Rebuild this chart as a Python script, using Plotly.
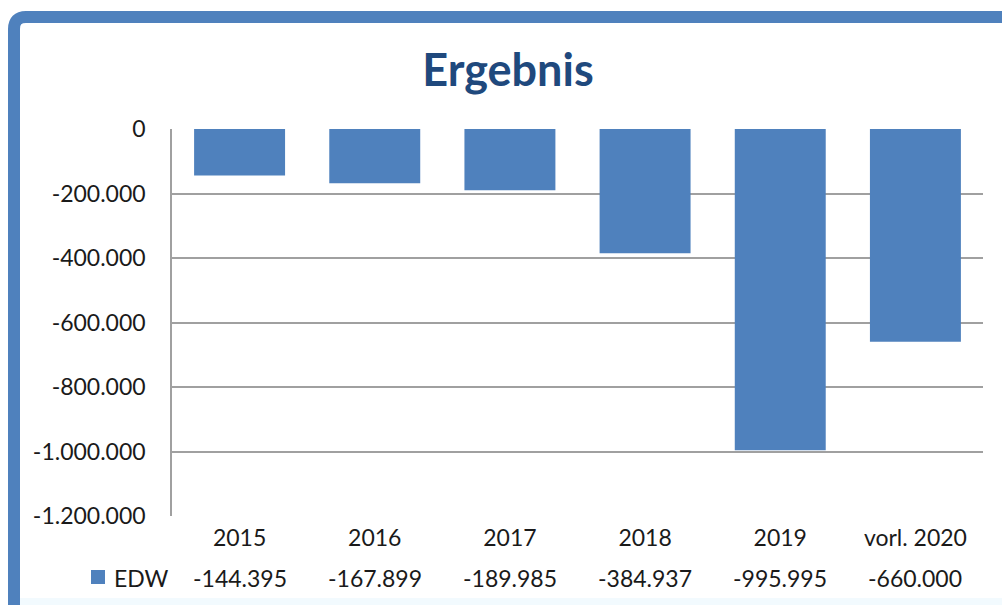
import plotly.graph_objects as go

categories = ["2015", "2016", "2017", "2018", "2019", "vorl. 2020"]
values = [-144395, -167899, -189985, -384937, -995995, -660000]
series_name = "EDW"
title_text = "Ergebnis"
y_ticks = [0, -200000, -400000, -600000, -800000, -1000000, -1200000]

W, H = 1002, 605
L, R, T, B = 172, 983, 129, 516
BAR = "#4F81BD"
GRID = "#A0A0A0"
FONT = "Lato"
TXT = "#1a1a1a"
FS = 23

def px_x(px):
    return (px - L) / (R - L)

def px_y(py):
    return (B - py) / (B - T)

def fmt(v):
    return f"{v:,.0f}".replace(",", ".")

fig = go.Figure()
fig.add_trace(go.Bar(x=categories, y=values, marker=dict(color=BAR, line=dict(width=0)),
                     name=series_name, showlegend=False))

annotations = []
for i, v in enumerate(values):
    annotations.append(dict(x=i, xref="x", y=px_y(578), yref="paper", text=fmt(v),
                            showarrow=False, xanchor="center", yanchor="middle",
                            font=dict(family=FONT, size=FS, color=TXT)))
annotations.append(dict(x=px_x(112), xref="paper", y=px_y(578), yref="paper", text=series_name,
                        showarrow=False, xanchor="left", yanchor="middle",
                        font=dict(family=FONT, size=FS, color=TXT)))

r = 12
x0, y0 = 14, 17
frame_path = (f"M {px_x(x0)},{px_y(640)} L {px_x(x0)},{px_y(y0 + r)} "
              f"Q {px_x(x0)},{px_y(y0)} {px_x(x0 + r)},{px_y(y0)} L {px_x(1040)},{px_y(y0)}")

shapes = [
    dict(type="rect", xref="paper", yref="paper", x0=px_x(20), x1=px_x(1010),
         y0=px_y(598), y1=px_y(620), fillcolor="#F2FAFE", line=dict(width=0), layer="below"),
    dict(type="path", xref="paper", yref="paper", path=frame_path,
         line=dict(color=BAR, width=12)),
    dict(type="rect", xref="paper", yref="paper", x0=px_x(91), x1=px_x(105),
         y0=px_y(584), y1=px_y(570), fillcolor=BAR, line=dict(width=0)),
]

fig.update_layout(
    width=W, height=H,
    margin=dict(l=L, r=W - R, t=T, b=H - B, autoexpand=False),
    paper_bgcolor="white", plot_bgcolor="white",
    separators=",.",
    bargap=0.327,
    title=dict(text=f"<b>{title_text}</b>", x=508 / W, xanchor="center", xref="container",
               y=1 - 70 / H, yanchor="middle",
               font=dict(family=FONT, size=45, color="#1F497D")),
    font=dict(family=FONT, size=FS, color=TXT),
    annotations=annotations,
    shapes=shapes,
)
fig.update_xaxes(type="category", range=[-0.5, len(categories) - 0.5], autorange=False,
                 showgrid=False, showline=False, ticks="", ticklabelstandoff=6,
                 tickfont=dict(family=FONT, size=FS, color=TXT), fixedrange=True)
fig.update_yaxes(range=[-1200000, 0], tickvals=y_ticks, ticktext=[fmt(v) for v in y_ticks],
                 showgrid=True, gridcolor=GRID, gridwidth=1.5, zeroline=False,
                 showline=True, linecolor=GRID, linewidth=1.5, ticks="",
                 ticklabelstandoff=20,
                 tickfont=dict(family=FONT, size=FS, color=TXT), fixedrange=True)

fig.write_html("out.html", config={"displayModeBar": False},
               post_script="document.body.style.margin='0';document.body.style.padding='0';document.body.style.overflow='hidden';")
